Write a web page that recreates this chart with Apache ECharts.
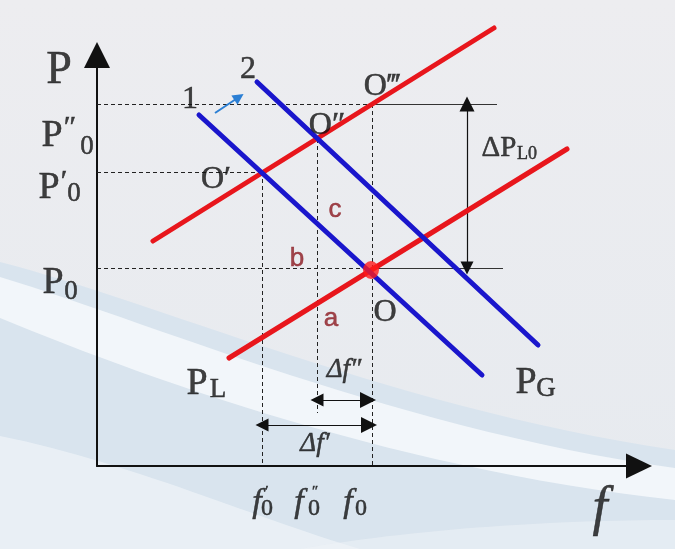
<!DOCTYPE html>
<html><head><meta charset="utf-8">
<script src="https://cdn.jsdelivr.net/npm/echarts@6/dist/echarts.min.js"></script>
<style>html,body{margin:0;padding:0;background:#eceef2}#c{width:675px;height:549px}</style>
</head><body><div id="c"></div>
<script>
// ---- data (coordinates in chart units: f to the right, P upward) ----
var redUpper = [[56,225],[397,438]];
var redLower = [[132,108],[470,317]];
var blueLine1 = [[102,351],[385,91]];
var blueLine2 = [[160,384],[441,121]];
var pointO = [[274,196]];
var dashedGuides = [
  [[0,362],[275,362]], [[0,294],[165,294]], [[0,198],[274,198]],
  [[165,294],[165,0]], [[220,327],[220,53]], [[275,362],[275,0]]
];
var solidGuides = [[[275,362],[400,362]], [[274,198],[406,198]]];
var bigArrowPL = [[[370,362],[370,198]]];
var smallArrowsF = [[[220,66],[271,66]], [[165,41],[272,41]]];
var shiftArrow = [[[118,353],[142,369]]];

var axisNameLabels = [[-38,395,'P']];
var axisFLabel = [[503,-44,'f']];
var serifCaps = [[-45,330,'P'],[-48,278,'P'],[-44,183,'P'],[100,82,'P'],[429,83,'P']];
var serifSubs = [[-10,319,'0'],[-23,272,'0'],[-26,174,'0'],[121,76,'L'],[449,77,'G']];
var serifPrimes = [[-27,338,'\u2033'],[-33,284,'\u2032']];
var pointLabels = [[119,286,'O\u2032'],[230,340,'O\u2033'],[285,379,'O\u2034'],[288,153,'O'],[93,366,'1'],[151,396,'2']];
var deltaPLabel = [[402,318,'\u0394P']];
var deltaPSub = [[430,312,'L0']];
var deltaFLabels = [[247,96,'\u0394f\u2033'],[218,22,'\u0394f\u2032']];
var fTickF = [[160,-37,'f'],[202,-37,'f'],[251,-37,'f']];
var fTickSub = [[170,-43,'0'],[217,-43,'0'],[264,-43,'0']];
var fTickPrime = [[170,-26,'\u2032'],[218,-26,'\u2033']];
var regionLabels = [[238,256,'c'],[200,207,'b'],[234,147,'a']];

var RED = '#e8161c', BLUE = '#1a16cc', SERIF = '"Liberation Serif","DejaVu Serif",serif';

function textSeries(data, font, size, color, italic) {
  return {
    type: 'scatter', data: data, symbolSize: 1, clip: false, silent: true, z: 10,
    itemStyle: {color: 'rgba(0,0,0,0)'},
    label: {show: true, position: 'inside', formatter: function (p) { return p.data[2]; },
      fontFamily: font, fontSize: size, color: color, fontStyle: italic ? 'italic' : 'normal',
      textBorderColor: color, textBorderWidth: 0.5}
  };
}
function segSeries(data, color, width, type, symbol, symSize, z) {
  return {
    type: 'lines', coordinateSystem: 'cartesian2d', silent: true, z: z || 3,
    data: data.map(function (s) { return {coords: s}; }),
    symbol: symbol || ['none','none'], symbolSize: symSize || 10,
    lineStyle: {color: color, width: width, type: type, opacity: 1}
  };
}
function lineSeries(data, color) {
  return {type: 'line', data: data, showSymbol: false, clip: false, silent: true, z: 5,
    lineStyle: {color: color, width: 5, cap: 'round'}};
}
// decorative background bands: sample cubic curves into polygons
function bez(p0, p1, p2, p3, n) {
  var out = [];
  for (var i = 0; i <= n; i++) {
    var t = i / n, u = 1 - t;
    out.push([u*u*u*p0[0] + 3*u*u*t*p1[0] + 3*u*t*t*p2[0] + t*t*t*p3[0],
              u*u*u*p0[1] + 3*u*u*t*p1[1] + 3*u*t*t*p2[1] + t*t*t*p3[1]]);
  }
  return out;
}
function band(top, bottom, fill, z) {
  var pts = bez.apply(null, top.concat([30])).concat(bez.apply(null, bottom.concat([30])).reverse());
  return {type: 'polygon', z: z, silent: true, shape: {points: pts}, style: {fill: fill}};
}

var chart = echarts.init(document.getElementById('c'), null, {renderer: 'canvas'});
chart.setOption({
  backgroundColor: {type: 'linear', x: 0, y: 0, x2: 0, y2: 1,
    colorStops: [{offset: 0, color: '#ededf0'}, {offset: 1, color: '#e6eaef'}]},
  animation: false,
  graphic: [
    band([[0,262],[150,300],[400,410],[675,450]], [[0,549],[200,549],[450,549],[675,549]], '#d9e4ee', -6),
    band([[0,277],[150,322],[400,430],[675,468]], [[0,318],[150,380],[400,470],[675,500]], 'rgba(248,250,253,0.8)', -5),
    band([[0,436],[130,462],[260,520],[360,549]], [[0,549],[80,549],[200,549],[260,549]], 'rgba(244,247,250,0.6)', -5),
    band([[300,549],[420,528],[560,520],[675,520]], [[300,549],[420,549],[560,549],[675,549]], 'rgba(240,244,248,0.5)', -5)
  ],
  grid: {left: 97, right: 36, top: 55, bottom: 83},
  xAxis: {type: 'value', min: 0, max: 542,
    axisLine: {show: true, symbol: ['none','triangle'], symbolSize: [25, 26], lineStyle: {color: '#111', width: 2}},
    axisTick: {show: false}, axisLabel: {show: false}, splitLine: {show: false}},
  yAxis: {type: 'value', min: 0, max: 411,
    axisLine: {show: true, symbol: ['none','triangle'], symbolSize: [26, 26], lineStyle: {color: '#111', width: 2}},
    axisTick: {show: false}, axisLabel: {show: false}, splitLine: {show: false}},
  series: [
    segSeries(dashedGuides, '#222', 1, [4,3]),
    segSeries(solidGuides, '#333', 1, 'solid'),
    segSeries(bigArrowPL, '#111', 1.2, 'solid', ['triangle','triangle'], [15, 13]),
    segSeries(smallArrowsF, '#111', 1.2, 'solid', ['triangle','triangle'], [13, 16]),
    segSeries(shiftArrow, '#2b7fd4', 2, 'solid', ['none','triangle'], [10, 11], 6),
    lineSeries(redUpper, RED),
    lineSeries(redLower, RED),
    lineSeries(blueLine1, BLUE),
    lineSeries(blueLine2, BLUE),
    {type: 'scatter', data: pointO, symbolSize: [16, 18], itemStyle: {color: '#ff1a1a'}, z: 8, silent: true},
    textSeries(axisNameLabels, SERIF, 46, '#111'),
    textSeries(axisFLabel, SERIF, 54, '#111', true),
    textSeries(serifCaps, SERIF, 38, '#111'),
    textSeries(serifSubs, SERIF, 27, '#111'),
    textSeries(serifPrimes, SERIF, 30, '#111'),
    textSeries(pointLabels, SERIF, 32, '#111'),
    textSeries(deltaPLabel, SERIF, 29, '#111'),
    textSeries(deltaPSub, SERIF, 18, '#111'),
    textSeries(deltaFLabels, SERIF, 27, '#111', true),
    textSeries(fTickF, SERIF, 34, '#111', true),
    textSeries(fTickSub, SERIF, 24, '#111'),
    textSeries(fTickPrime, SERIF, 15, '#111'),
    textSeries(regionLabels, '"Liberation Sans",Arial,sans-serif', 26, '#8c1a22')
  ]
});
</script></body></html>
